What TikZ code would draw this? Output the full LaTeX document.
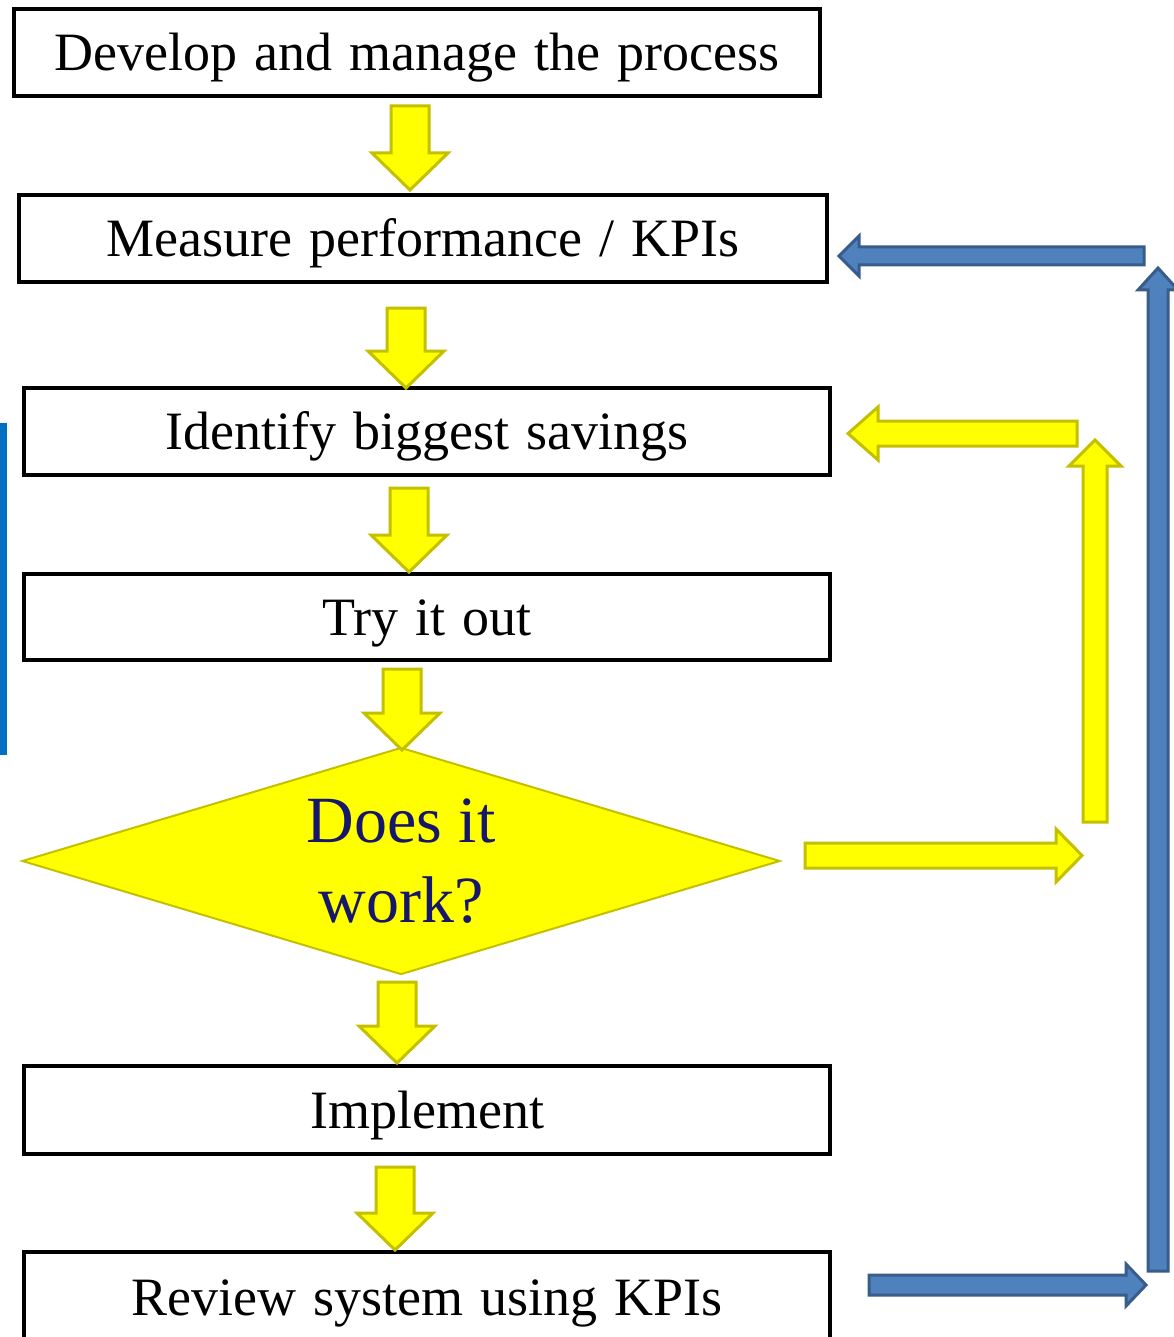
\documentclass[tikz,border=0pt]{standalone}
\usepackage{fontspec}
\setmainfont{Liberation Serif}[WordSpace=1.25]
\newfontfamily\dfont{Liberation Serif}
\usetikzlibrary{shapes.geometric}
\definecolor{ylw}{HTML}{FFFF00}
\definecolor{ylwline}{HTML}{C4C000}
\definecolor{bluefill}{HTML}{4F81BD}
\definecolor{blueline}{HTML}{385D8A}
\definecolor{barblue}{HTML}{0070C0}
\definecolor{navytext}{HTML}{16166A}
\newcommand\downarr[3]{% x, ytop, ytip
  \draw[yarr] ({#1-19},#2) -- ({#1+19},#2) -- ({#1+19},{#3-37}) -- ({#1+38},{#3-37})
    -- (#1,#3) -- ({#1-38},{#3-37}) -- ({#1-19},{#3-37}) -- cycle;}
\begin{document}
\begin{tikzpicture}[x=1pt,y=-1pt,
  box/.style={draw=black, line width=4pt, fill=white, inner sep=0pt,
    minimum width=806pt, minimum height=87pt, text height=36pt, text depth=0pt,
    font=\fontsize{54}{60}\selectfont},
  yarr/.style={fill=ylw, draw=ylwline, line width=3pt, line join=miter},
  barr/.style={fill=bluefill, draw=blueline, line width=3pt, line join=miter},
  decision/.style={diamond, aspect=3.34, fill=ylw, draw=ylwline, line width=2pt, inner sep=0pt,
    minimum width=758pt, minimum height=227pt, align=center, text=navytext,
    font=\dfont\fontsize{66}{80}\selectfont},
]
\useasboundingbox (0,0) rectangle (1173,1337);
\fill[white] (0,0) rectangle (1173,1337);

% left blue bar
\fill[barblue] (0,423) rectangle (7,755);

% boxes
\node[box, minimum width=806pt, minimum height=87pt] (b1) at (417,52.5) {Develop and manage the process};
\node[box, minimum width=808pt, minimum height=87pt] (b2) at (423,238.5) {Measure performance / KPIs};
\node[box, minimum width=806pt, minimum height=87pt] (b3) at (427,431.5) {Identify biggest savings};
\node[box, minimum width=806pt, minimum height=86pt] (b4) at (427,617) {Try it out};
\node[decision] (dec) at (401,861) {Does it\\work?};
\node[box, minimum width=806pt, minimum height=88pt] (b6) at (427,1110) {Implement};
\node[box, minimum width=806pt, minimum height=90pt] (b7) at (427,1297) {Review system using KPIs};

% yellow down arrows
\downarr{410}{106}{190}
\downarr{406}{308}{388}
\downarr{409}{488}{572}
\downarr{402}{669}{750}
\downarr{397}{982}{1063}
\downarr{395}{1167}{1250}

% yellow loop: right, up, left
\draw[yarr] (805,843) -- (1056,843) -- (1056,829) -- (1082,855.5) -- (1056,882) -- (1056,868) -- (805,868) -- cycle;
\draw[yarr] (1083,822) -- (1083,466) -- (1069,466) -- (1095,440) -- (1121,466) -- (1107,466) -- (1107,822) -- cycle;
\draw[yarr] (1077,421) -- (878,421) -- (878,407) -- (848,433.5) -- (878,460) -- (878,446) -- (1077,446) -- cycle;

% blue loop: right, up, left
\draw[barr] (869,1275) -- (1126,1275) -- (1126,1264) -- (1146,1285) -- (1126,1306) -- (1126,1295) -- (869,1295) -- cycle;
\draw[barr] (1148,1271) -- (1148,290) -- (1138,290) -- (1158,268) -- (1178,290) -- (1168,290) -- (1168,1271) -- cycle;
\draw[barr] (1144,247) -- (859,247) -- (859,236) -- (839,256) -- (859,276) -- (859,265) -- (1144,265) -- cycle;
\end{tikzpicture}
\end{document}
